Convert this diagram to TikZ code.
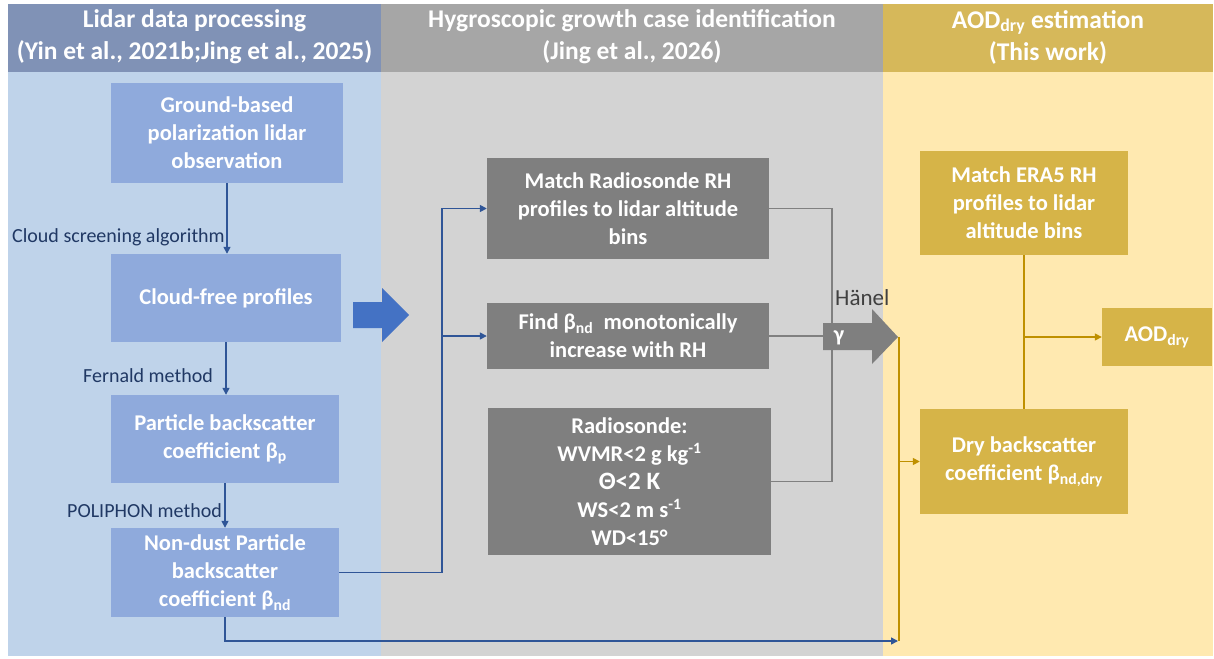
\documentclass[tikz,border=0pt]{standalone}
\usepackage{fontspec}
\setmainfont{Carlito}
\usetikzlibrary{arrows.meta}
\definecolor{hdblue}{RGB}{128,146,182}
\definecolor{bgblue}{RGB}{191,211,234}
\definecolor{hdgray}{RGB}{166,166,166}
\definecolor{bggray}{RGB}{211,211,211}
\definecolor{hdgold}{RGB}{214,184,90}
\definecolor{bggold}{RGB}{255,233,176}
\definecolor{boxblue}{RGB}{143,170,220}
\definecolor{boxgray}{RGB}{127,127,127}
\definecolor{boxgold}{RGB}{214,180,72}
\definecolor{lnblue}{RGB}{47,85,151}
\definecolor{bigblue}{RGB}{68,114,196}
\definecolor{lngold}{RGB}{191,144,0}
\definecolor{lngray}{RGB}{128,128,128}
\definecolor{lbl}{RGB}{32,56,100}
\tikzset{
  x=1pt,y=-1pt,
  boxb/.style={fill=boxblue,text=white,font=\fontsize{22.5}{28}\selectfont\bfseries,align=center,inner sep=0pt},
  boxg/.style={fill=boxgray,text=white,font=\fontsize{22.5}{28}\selectfont\bfseries,align=center,inner sep=0pt},
  boxy/.style={fill=boxgold,text=white,font=\fontsize{22.5}{28}\selectfont\bfseries,align=center,inner sep=0pt},
  hdr/.style={text=white,font=\fontsize{25.5}{32}\selectfont\bfseries,align=center,inner sep=0pt},
  lab/.style={text=lbl,font=\fontsize{20}{22}\selectfont,inner sep=0pt},
  ab/.style={draw=lnblue,line width=1.5pt,-{Triangle[length=7pt,width=7pt]}},
  lb/.style={draw=lnblue,line width=1.5pt},
  lg/.style={draw=lngray,line width=1.5pt},
  ly/.style={draw=lngold,line width=1.5pt},
  ay/.style={draw=lngold,line width=1.5pt,-{Triangle[length=7pt,width=7pt]}},
}
\begin{document}
\begin{tikzpicture}
\useasboundingbox (0,0) rectangle (1214,658);
\fill[white] (0,0) rectangle (1214,658);
% columns
\fill[bgblue] (8,72) rectangle (381,656);
\fill[hdblue] (8,4) rectangle (381,72);
\fill[bggray] (381,72) rectangle (883,656);
\fill[hdgray] (381,4) rectangle (883,72);
\fill[bggold] (883,72) rectangle (1213,656);
\fill[hdgold] (883,4) rectangle (1213,72);
\node[hdr] (h1) at (194.5,37) {Lidar data processing\\(Yin et al., 2021b;Jing et al., 2025)};
\node[hdr] (h2) at (632,37) {Hygroscopic growth case identification\\(Jing et al., 2026)};
\node[hdr] (h3) at (1048,37) {AOD\textsubscript{dry} estimation\\(This work)};
% left boxes
\node[boxb,minimum width=232,minimum height=100] (g1) at (227,133) {Ground-based\\polarization lidar\\observation};
\node[boxb,minimum width=230,minimum height=88] (g2) at (226,298) {Cloud-free profiles};
\node[boxb,minimum width=228,minimum height=88] (g3) at (225,439) {Particle backscatter\\coefficient β\textsubscript{p}};
\node[boxb,minimum width=228,minimum height=89] (g4) at (225,572.5) {Non-dust Particle\\backscatter\\coefficient β\textsubscript{nd}};
\draw[ab] (g1.south) -- (g1.south |- g2.north);
\draw[ab] (g2.south) -- (g2.south |- g3.north);
\draw[ab] (g3.south) -- (g3.south |- g4.north);
\node[lab,anchor=west] (l1) at (12,237) {Cloud screening algorithm};
\node[lab,anchor=east] (l2) at (213,376) {Fernald method};
\node[lab,anchor=east] (l3) at (222,511) {POLIPHON method};
% big blue arrow
\fill[bigblue] (353,302) -- (382,302) -- (382,288) -- (409,315) -- (382,342) -- (382,328) -- (353,328) -- cycle;
% middle boxes
\node[boxg,minimum width=282,minimum height=101] (m1) at (628,208.5) {Match Radiosonde RH\\profiles to lidar altitude\\bins};
\node[boxg,minimum width=282,minimum height=66] (m2) at (628,336) {Find β\textsubscript{nd}\ \ monotonically\\increase with RH};
\node[boxg,minimum width=283,minimum height=147] (m3) at (629.5,481.5) {Radiosonde:\\WVMR<2 g kg\textsuperscript{-1}\\{\fontsize{25}{28}\selectfont Θ<2 K}\\WS<2 m s\textsuperscript{-1}\\WD<15°};
% blue connectors to middle
\coordinate (bj) at (442,572.5);
\draw[lb] (g4.east |- bj) -- (bj) -- (bj |- m2.west);
\draw[ab] (bj |- m2.west) |- (m1.west);
\draw[ab] (bj |- m2.west) -- (m2.west);
% gray connectors
\coordinate (gt) at (832,208.5);
\coordinate (gb) at (832,481.5);
\draw[lg] (m1.east) -- (gt) -- (gb) -- (m3.east);
\draw[lg] (m2.east) -- (823,336);
% gamma arrow
\fill[boxgray] (823,323) -- (872,323) -- (872,309) -- (898,337) -- (872,364) -- (872,350) -- (823,350) -- cycle;
\node[text=white,font=\fontsize{22}{22}\selectfont\bfseries,inner sep=0pt] (gam) at (839,338) {γ};
\node[text=black!75,font=\fontsize{23}{24}\selectfont,inner sep=0pt,anchor=west] (han) at (835,298) {Hänel};
% right boxes
\node[boxy,minimum width=208,minimum height=104] (r1) at (1024,203) {Match ERA5 RH\\profiles to lidar\\altitude bins};
\node[boxy,minimum width=110,minimum height=58] (r2) at (1157,337) {AOD\textsubscript{dry}};
\node[boxy,minimum width=208,minimum height=105] (r3) at (1024,461.5) {Dry backscatter\\coefficient β\textsubscript{nd,dry}};
\draw[ly] (r1.south) -- (r3.north);
\draw[ay] (r1.south |- r2.west) -- (r2.west);
% gold vertical from gamma arrow
\coordinate (ytip) at (899,337);
\coordinate (ybot) at (899,641);
\draw[ly] (ytip) -- (ybot);
\draw[ay] (ytip |- r3.west) -- (r3.west);
% bottom blue line
\draw[ab,shorten >=1pt] (g4.south) |- (ybot);
\end{tikzpicture}
\end{document}
